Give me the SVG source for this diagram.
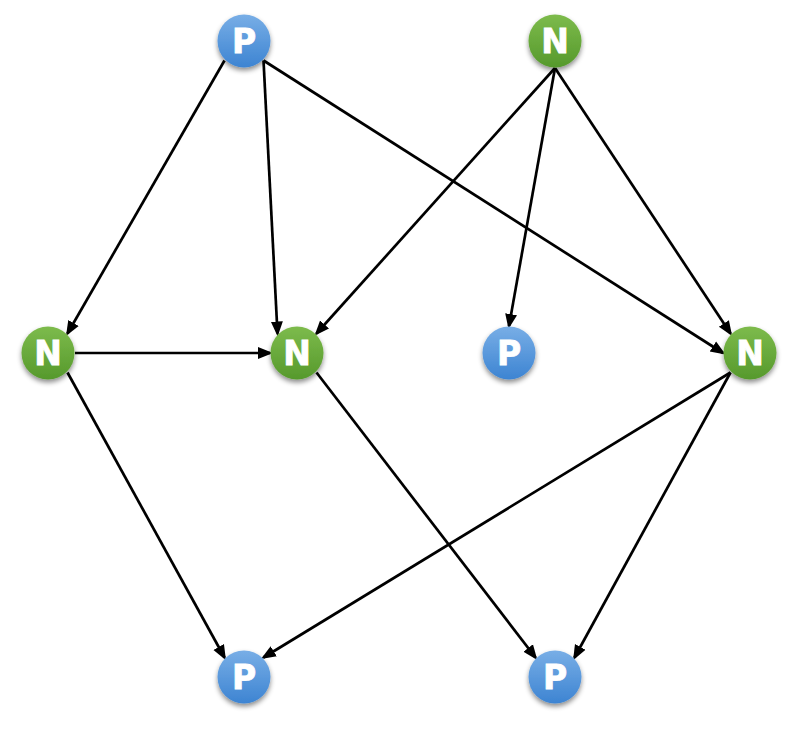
<svg xmlns="http://www.w3.org/2000/svg" width="797" height="736" viewBox="0 0 797 736">
<style>
.edge{stroke:#000;stroke-width:2.7;fill:none;marker-end:url(#arr)}
.lbl{font-family:"DejaVu Sans","Liberation Sans",sans-serif;font-weight:bold;font-size:33px;fill:#fff;stroke:#fff;stroke-width:0.8;text-anchor:middle}
.p{fill:url(#gb);filter:url(#sh)}
.n{fill:url(#gg);filter:url(#sh)}
</style>
<defs>
<linearGradient id="gb" x1="0" y1="0" x2="0" y2="1">
<stop offset="0" stop-color="#78aee6"/>
<stop offset="1" stop-color="#3d84d2"/>
</linearGradient>
<linearGradient id="gg" x1="0" y1="0" x2="0" y2="1">
<stop offset="0" stop-color="#7dbb4c"/>
<stop offset="1" stop-color="#56992c"/>
</linearGradient>
<filter id="sh" x="-30%" y="-30%" width="160%" height="170%">
<feDropShadow dx="0" dy="3" stdDeviation="2.5" flood-color="#000" flood-opacity="0.45"/>
</filter>
<marker id="arr" markerUnits="userSpaceOnUse" markerWidth="18" markerHeight="14" viewBox="0 0 18 14" refX="12" refY="7" orient="auto">
<path d="M0,1 L15,7 L0,13 Z" fill="#000"/>
</marker>
</defs>
<g id="connectors">
<line class="edge" x1="224.5" y1="60.5" x2="67.5" y2="333.5"/>
<line class="edge" x1="263.5" y1="60.5" x2="277.5" y2="333.5"/>
<line class="edge" x1="263.5" y1="60.5" x2="723" y2="353"/>
<line class="edge" x1="555" y1="68" x2="316.5" y2="333.5"/>
<line class="edge" x1="555" y1="68" x2="509" y2="326"/>
<line class="edge" x1="555" y1="68" x2="730.5" y2="333.5"/>
<line class="edge" x1="75" y1="353" x2="270" y2="353"/>
<line class="edge" x1="67.5" y1="372.5" x2="224.5" y2="657.5"/>
<line class="edge" x1="316.5" y1="372.5" x2="535.5" y2="657.5"/>
<line class="edge" x1="730.5" y1="372.5" x2="263.5" y2="657.5"/>
<line class="edge" x1="730.5" y1="372.5" x2="574.5" y2="657.5"/>
</g>
<g id="P1"><circle class="p" cx="244" cy="41" r="26.5"/><text class="lbl" x="244" y="53">P</text></g>
<g id="N1"><circle class="n" cx="555" cy="41" r="26.5"/><text class="lbl" x="555" y="53">N</text></g>
<g id="N2"><circle class="n" cx="48" cy="353" r="26.5"/><text class="lbl" x="48" y="365">N</text></g>
<g id="N3"><circle class="n" cx="297" cy="353" r="26.5"/><text class="lbl" x="297" y="365">N</text></g>
<g id="P2"><circle class="p" cx="509" cy="353" r="26.5"/><text class="lbl" x="509" y="365">P</text></g>
<g id="N4"><circle class="n" cx="750" cy="353" r="26.5"/><text class="lbl" x="750" y="365">N</text></g>
<g id="P3"><circle class="p" cx="244" cy="677" r="26.5"/><text class="lbl" x="244" y="689">P</text></g>
<g id="P4"><circle class="p" cx="555" cy="677" r="26.5"/><text class="lbl" x="555" y="689">P</text></g>
</svg>
